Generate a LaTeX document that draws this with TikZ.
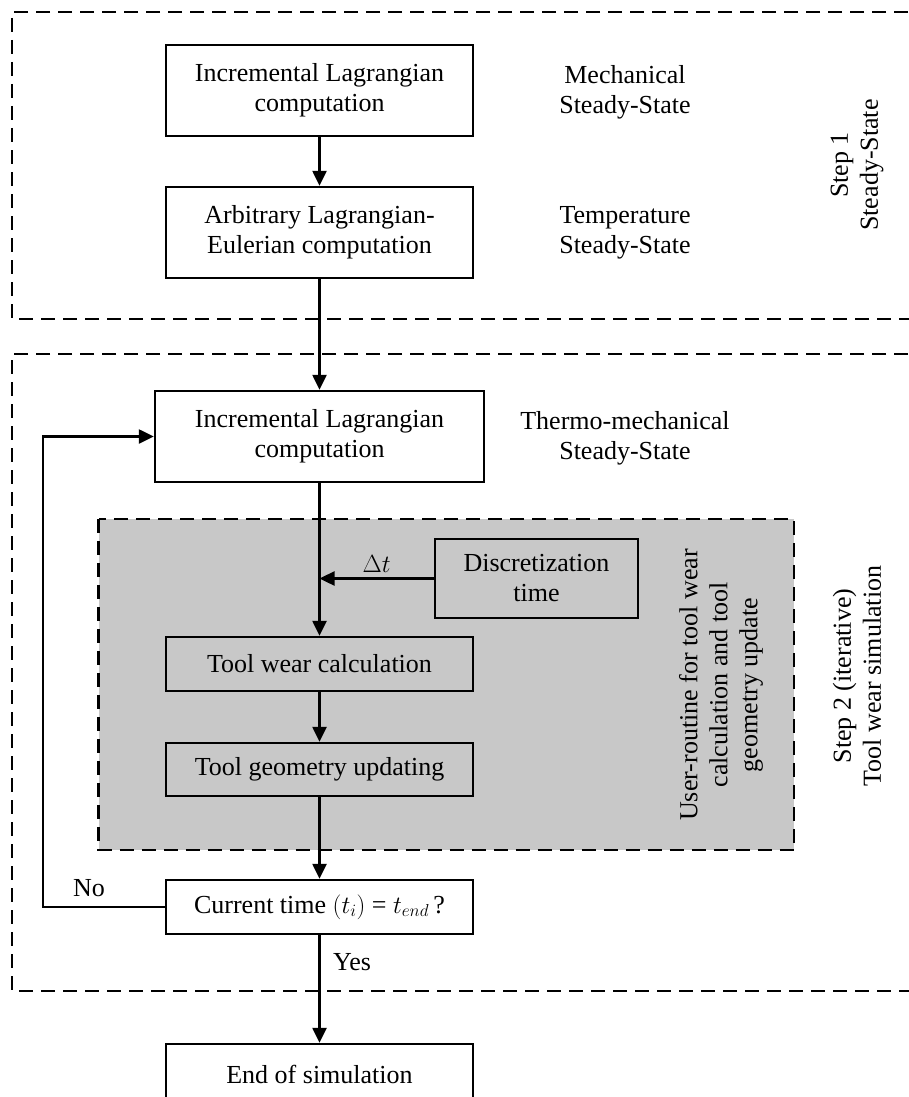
\documentclass[tikz,border=0pt]{standalone}
\usepackage{fontspec}
\setmainfont{Liberation Serif}
\usepackage{tikz}
\usetikzlibrary{arrows.meta,calc}
\definecolor{routinegrey}{HTML}{C8C8C8}
\tikzset{every node/.style={font=\fontsize{26}{30}\selectfont},
  stepbox/.style={draw=black,line width=2.6pt,dash pattern=on 14pt off 8pt},
  proc/.style={draw=black,line width=2.4pt,align=center,inner sep=0pt,
    minimum width=307pt},
  sidelabel/.style={align=center,inner sep=0pt}}

\begin{document}
\begin{tikzpicture}[x=1pt,y=-1pt,
    lnk/.style={draw=black,line width=2.4pt},
    arr/.style={lnk,-{Triangle[length=15pt,width=14pt]}}]
  \useasboundingbox (0,0) rectangle (909,1097);

  % Step frames, open to the right
  \draw[stepbox] (930,12) -- (12,12) -- (12,319) -- (930,319);
  \draw[stepbox] (930,354) -- (12,354) -- (12,991) -- (930,991);
  \fill[routinegrey] (98.5,519) rectangle (794,850);
  \draw[stepbox] (98.5,519) rectangle (794,850);

  % Step 1: steady state
  \node[proc,minimum height=91pt] (incr1) at (319.5,90.5)
    {Incremental Lagrangian\\computation};
  \node[proc,minimum height=91pt] (ale) at (319.5,232.5)
    {Arbitrary Lagrangian-\\Eulerian computation};
  \node[sidelabel] (mech) at (625,92) {Mechanical\\Steady-State};
  \node[sidelabel] (temp) at (625,233) {Temperature\\Steady-State};
  \node[sidelabel,rotate=90] (step1) at (857,165) {Step 1\\Steady-State};

  % Step 2: iterative tool wear loop
  \node[proc,minimum width=329pt,minimum height=91pt] (incr2) at (319.5,436.5)
    {Incremental Lagrangian\\computation};
  \node[sidelabel] (thermo) at (625,438) {Thermo-mechanical\\Steady-State};
  \node[proc,minimum width=203pt,minimum height=79pt] (disc) at (536.5,578.5)
    {Discretization\\time};
  \node[proc,minimum height=54pt] (wear) at (319.5,664) {Tool wear calculation};
  \node[proc,minimum height=53pt] (geom) at (319.5,769.5) {Tool geometry updating};
  \node[proc,minimum height=54pt] (curr) at (319.5,907)
    {Current time $(t_i)$ = $t_{end}$\,?};
  \node[proc,minimum height=60pt] (end) at (319.5,1074) {End of simulation};
  \node[sidelabel,rotate=90] (routine) at (721,685)
    {User-routine for tool wear\\calculation and tool\\geometry update};
  \node[sidelabel,rotate=90] (step2) at (857,676)
    {Step 2 (iterative)\\Tool wear simulation};

  \coordinate (join) at (incr2.south |- disc.west);
  \coordinate (back) at (43,907);

  \draw[arr] (incr1) -- (ale);
  \draw[arr] (ale) -- (incr2);
  \draw[arr] (incr2) -- (wear);
  \draw[arr] (disc.west) -- (join) node[midway,above=1pt] (dt) {$\Delta t$};
  \draw[arr] (wear) -- (geom);
  \draw[arr] (geom) -- (curr);
  \draw[arr] (curr) -- (end);
  % No: back to the Lagrangian step
  \draw[arr] (curr.west) -- (back) |- (incr2.west);
  \node (no) at (89,888) {No};
  \node (yes) at (352,962) {Yes};
\end{tikzpicture}
\end{document}
